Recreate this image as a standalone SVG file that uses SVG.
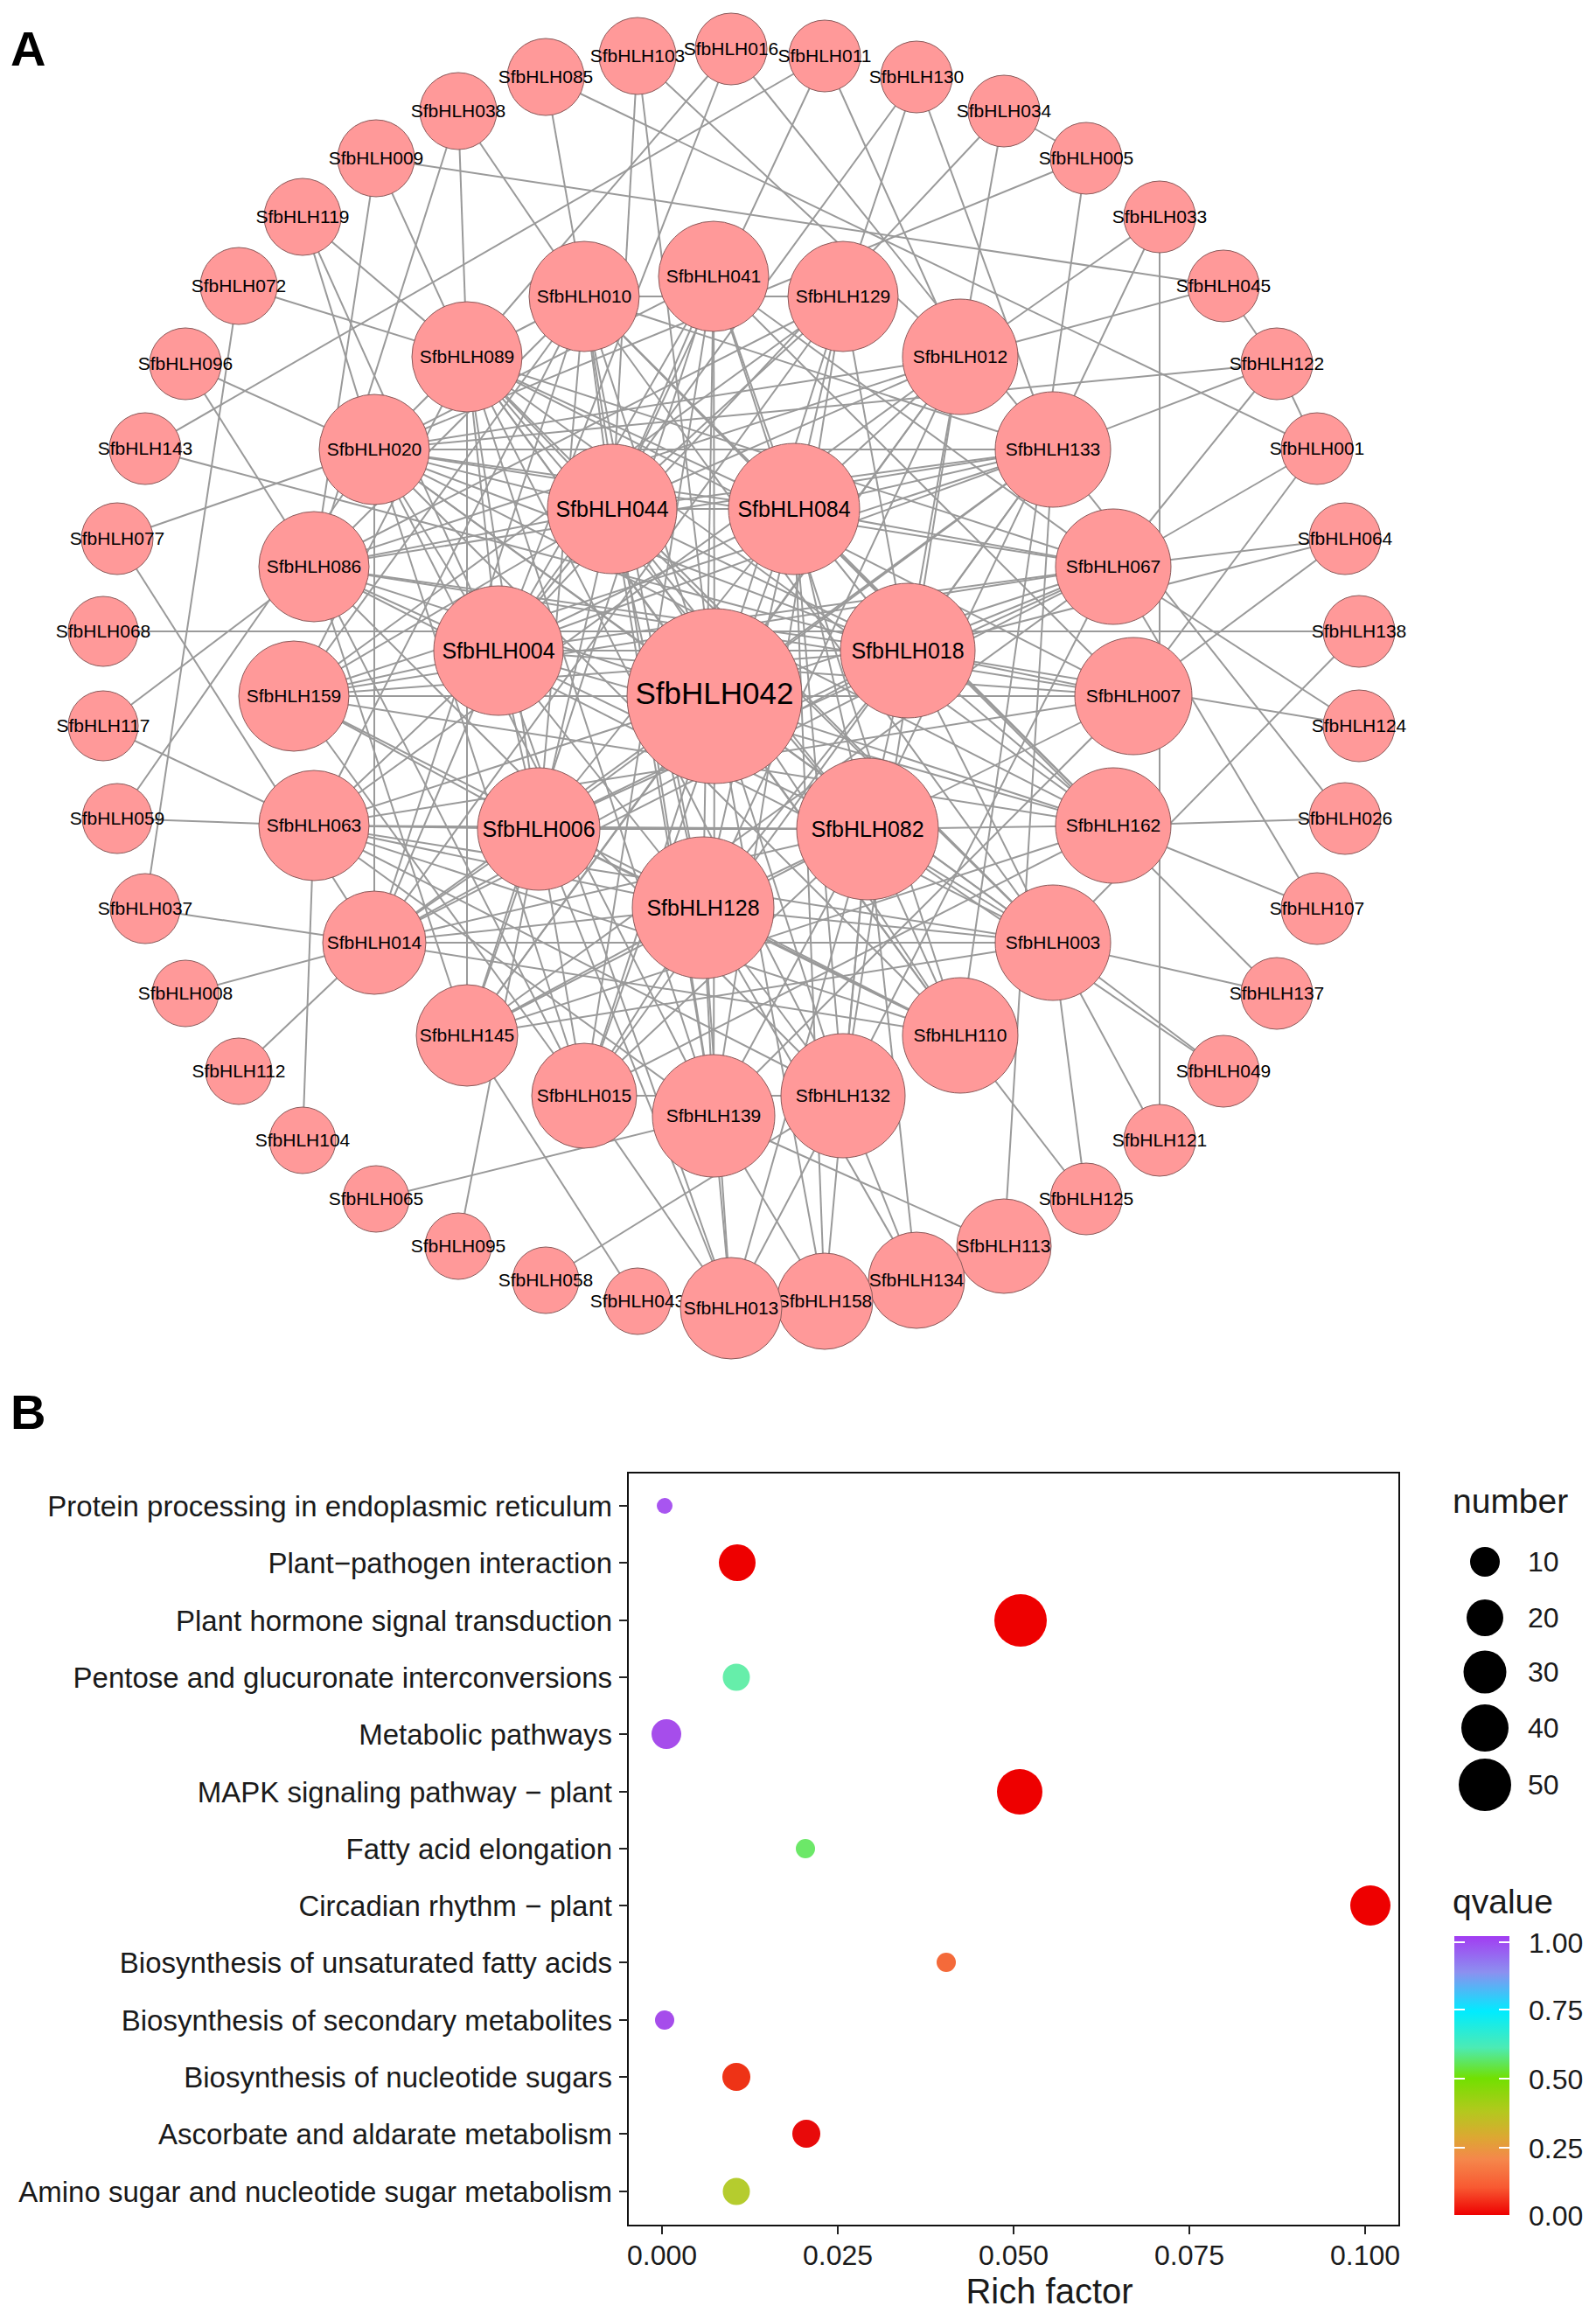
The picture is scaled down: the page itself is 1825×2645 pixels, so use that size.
<svg xmlns="http://www.w3.org/2000/svg" width="1825" height="2645" viewBox="0 0 1825 2645">
<style>
.edges path{stroke:#9a9a9a;stroke-width:2;fill:none}
.node circle{fill:#FF9999;stroke:#8a5a5a;stroke-width:1}
.node text{font-family:"Liberation Sans",Arial,sans-serif;text-anchor:middle;fill:#000}
.s text{font-size:21px}
.m text{font-size:21px}
.l text{font-size:25px}
.c text{font-size:35px}
.lab{font-family:"Liberation Sans",Arial,sans-serif;font-weight:bold;font-size:56px;fill:#000}
.ax{font-family:"Liberation Sans",Arial,sans-serif;fill:#1a1a1a}
.yl{font-size:33px;text-anchor:end}
.xl{font-size:32px;text-anchor:middle}
.lg{font-size:32px}
.tt{font-size:39px}
.tick{stroke:#222;stroke-width:2}
</style>
<defs>
<linearGradient id="qg" x1="0" y1="0" x2="0" y2="1">
<stop offset="0" stop-color="#A23CF2"/>
<stop offset="0.13" stop-color="#8C90F0"/>
<stop offset="0.27" stop-color="#00ECFF"/>
<stop offset="0.40" stop-color="#4CEBB4"/>
<stop offset="0.51" stop-color="#72E000"/>
<stop offset="0.63" stop-color="#B4C81E"/>
<stop offset="0.72" stop-color="#DCA832"/>
<stop offset="0.80" stop-color="#F5874B"/>
<stop offset="0.90" stop-color="#F85A32"/>
<stop offset="1" stop-color="#EE0000"/>
</linearGradient>
</defs>
<rect width="1825" height="2645" fill="#fff"/>
<text class="lab" x="12" y="75">A</text>
<text class="lab" x="12" y="1634">B</text>
<g id="connectors" class="edges">
<path d="M836 56L570 744"/><path d="M836 56L1204 514"/><path d="M836 56L534 408"/>
<path d="M943 64L1098 408"/><path d="M943 64L166 513"/><path d="M943 64L700 582"/>
<path d="M1048 88L964 339"/><path d="M1048 88L1204 514"/><path d="M1048 88L570 744"/>
<path d="M1148 127L1098 408"/><path d="M1148 127L1242 181"/><path d="M1148 127L570 744"/>
<path d="M1242 181L428 514"/><path d="M1242 181L1098 1184"/>
<path d="M1326 248L1326 1304"/><path d="M1326 248L1098 408"/><path d="M1326 248L992 948"/>
<path d="M1399 327L430 181"/><path d="M1399 327L1098 408"/><path d="M1399 327L1460 416"/>
<path d="M1460 416L428 514"/><path d="M1460 416L1204 514"/><path d="M1460 416L1273 648"/><path d="M1460 416L1506 513"/>
<path d="M1506 513L624 88"/><path d="M1506 513L1273 648"/><path d="M1506 513L1296 796"/>
<path d="M1538 616L1273 648"/><path d="M1538 616L1038 744"/><path d="M1538 616L1296 796"/>
<path d="M1554 722L118 722"/><path d="M1554 722L1204 1078"/>
<path d="M1554 830L1273 648"/><path d="M1554 830L1038 744"/>
<path d="M1538 936L1273 944"/><path d="M1538 936L1204 514"/>
<path d="M1506 1039L1273 944"/><path d="M1506 1039L1273 648"/>
<path d="M1460 1136L1204 1078"/><path d="M1460 1136L908 582"/>
<path d="M1399 1225L992 948"/><path d="M1399 1225L1204 1078"/>
<path d="M1326 1304L1204 1078"/>
<path d="M1242 1371L1098 1184"/><path d="M1242 1371L1204 1078"/>
<path d="M1148 1425L1204 514"/><path d="M1148 1425L816 1276"/>
<path d="M1048 1464L964 1253"/><path d="M1048 1464L992 948"/><path d="M1048 1464L804 1038"/>
<path d="M943 1488L816 1276"/><path d="M943 1488L992 948"/><path d="M943 1488L817 796"/><path d="M943 1488L908 582"/>
<path d="M836 1496L816 1276"/><path d="M836 1496L804 1038"/><path d="M836 1496L668 1253"/><path d="M836 1496L616 948"/><path d="M836 1496L570 744"/><path d="M836 1496L992 948"/><path d="M836 1496L964 1253"/>
<path d="M729 1488L534 1184"/>
<path d="M624 1464L964 1253"/>
<path d="M524 1425L616 948"/>
<path d="M430 1371L816 1276"/>
<path d="M346 1304L359 944"/>
<path d="M273 1225L428 1078"/>
<path d="M212 1136L428 1078"/>
<path d="M166 1039L428 1078"/><path d="M166 1039L273 327"/>
<path d="M134 936L359 944"/><path d="M134 936L428 514"/>
<path d="M118 830L359 648"/><path d="M118 830L359 944"/>
<path d="M134 616L428 514"/><path d="M134 616L428 1078"/>
<path d="M166 513L1038 744"/>
<path d="M212 416L359 648"/><path d="M212 416L428 514"/>
<path d="M273 327L534 408"/>
<path d="M346 248L428 514"/><path d="M346 248L534 408"/><path d="M346 248L570 744"/>
<path d="M430 181L359 648"/><path d="M430 181L534 408"/>
<path d="M524 127L359 648"/><path d="M524 127L534 408"/><path d="M524 127L668 339"/>
<path d="M624 88L668 339"/>
<path d="M729 64L817 796"/><path d="M729 64L1098 408"/><path d="M729 64L700 582"/>
<path d="M817 796L816 316"/><path d="M817 796L964 339"/><path d="M817 796L1098 408"/><path d="M817 796L1204 514"/><path d="M817 796L1273 648"/><path d="M817 796L1296 796"/><path d="M817 796L1273 944"/><path d="M817 796L1204 1078"/><path d="M817 796L1098 1184"/><path d="M817 796L964 1253"/><path d="M817 796L816 1276"/><path d="M817 796L668 1253"/><path d="M817 796L534 1184"/><path d="M817 796L428 1078"/><path d="M817 796L359 944"/><path d="M817 796L336 796"/><path d="M817 796L359 648"/><path d="M817 796L428 514"/><path d="M817 796L534 408"/><path d="M817 796L668 339"/>
<path d="M804 1038L616 948"/><path d="M804 1038L570 744"/><path d="M804 1038L700 582"/><path d="M804 1038L908 582"/><path d="M804 1038L1038 744"/><path d="M804 1038L992 948"/>
<path d="M616 948L570 744"/><path d="M616 948L700 582"/><path d="M616 948L908 582"/><path d="M616 948L1038 744"/><path d="M616 948L992 948"/>
<path d="M570 744L700 582"/><path d="M570 744L908 582"/><path d="M570 744L1038 744"/><path d="M570 744L992 948"/>
<path d="M700 582L908 582"/><path d="M700 582L1038 744"/><path d="M700 582L992 948"/>
<path d="M908 582L1038 744"/><path d="M908 582L992 948"/>
<path d="M1038 744L992 948"/>
<path d="M700 582L668 339"/><path d="M700 582L816 316"/><path d="M700 582L534 408"/><path d="M700 582L428 514"/><path d="M700 582L359 648"/><path d="M700 582L336 796"/><path d="M700 582L964 339"/><path d="M700 582L1098 408"/><path d="M700 582L1204 514"/><path d="M700 582L1098 1184"/><path d="M700 582L816 1276"/><path d="M700 582L1204 1078"/>
<path d="M908 582L816 316"/><path d="M908 582L964 339"/><path d="M908 582L1098 408"/><path d="M908 582L1204 514"/><path d="M908 582L1273 648"/><path d="M908 582L668 339"/><path d="M908 582L534 408"/><path d="M908 582L428 514"/><path d="M908 582L1273 944"/><path d="M908 582L964 1253"/><path d="M908 582L668 1253"/>
<path d="M1038 744L964 339"/><path d="M1038 744L1098 408"/><path d="M1038 744L1204 514"/><path d="M1038 744L1273 648"/><path d="M1038 744L1296 796"/><path d="M1038 744L1273 944"/><path d="M1038 744L1204 1078"/><path d="M1038 744L359 648"/><path d="M1038 744L336 796"/><path d="M1038 744L428 514"/><path d="M1038 744L428 1078"/>
<path d="M992 948L1273 944"/><path d="M992 948L1204 1078"/><path d="M992 948L1098 1184"/><path d="M992 948L964 1253"/><path d="M992 948L816 1276"/><path d="M992 948L1296 796"/><path d="M992 948L668 1253"/><path d="M992 948L534 1184"/><path d="M992 948L428 1078"/><path d="M992 948L359 944"/><path d="M992 948L534 408"/>
<path d="M804 1038L816 1276"/><path d="M804 1038L668 1253"/><path d="M804 1038L534 1184"/><path d="M804 1038L964 1253"/><path d="M804 1038L1098 1184"/><path d="M804 1038L1204 1078"/><path d="M804 1038L428 1078"/><path d="M804 1038L359 944"/><path d="M804 1038L668 339"/><path d="M804 1038L816 316"/><path d="M804 1038L1098 408"/>
<path d="M616 948L428 1078"/><path d="M616 948L359 944"/><path d="M616 948L336 796"/><path d="M616 948L534 1184"/><path d="M616 948L668 1253"/><path d="M616 948L534 408"/><path d="M616 948L668 339"/><path d="M616 948L1204 514"/><path d="M616 948L1273 648"/><path d="M616 948L1098 1184"/>
<path d="M570 744L336 796"/><path d="M570 744L359 648"/><path d="M570 744L428 514"/><path d="M570 744L534 408"/><path d="M570 744L359 944"/><path d="M570 744L428 1078"/><path d="M570 744L1204 514"/><path d="M570 744L1273 648"/><path d="M570 744L1296 796"/><path d="M570 744L1273 944"/><path d="M570 744L816 316"/>
<path d="M668 339L964 339"/><path d="M668 339L1204 514"/><path d="M668 339L1204 1078"/><path d="M668 339L816 1276"/><path d="M668 339L1273 944"/>
<path d="M816 316L1273 648"/><path d="M816 316L1296 796"/><path d="M816 316L1098 1184"/><path d="M816 316L668 1253"/><path d="M816 316L534 1184"/><path d="M816 316L428 514"/>
<path d="M964 339L359 648"/><path d="M964 339L336 796"/><path d="M964 339L428 1078"/><path d="M964 339L816 1276"/>
<path d="M1098 408L359 648"/><path d="M1098 408L428 514"/><path d="M1098 408L359 944"/><path d="M1098 408L534 1184"/><path d="M1098 408L964 1253"/>
<path d="M1204 514L359 648"/><path d="M1204 514L336 796"/><path d="M1204 514L668 1253"/><path d="M1204 514L428 514"/>
<path d="M1273 648L428 514"/><path d="M1273 648L534 408"/><path d="M1273 648L336 796"/><path d="M1273 648L428 1078"/><path d="M1273 648L534 1184"/><path d="M1273 648L964 1253"/>
<path d="M1296 796L359 648"/><path d="M1296 796L336 796"/><path d="M1296 796L534 408"/><path d="M1296 796L359 944"/><path d="M1296 796L816 1276"/>
<path d="M1273 944L534 408"/><path d="M1273 944L428 514"/><path d="M1273 944L336 796"/><path d="M1273 944L534 1184"/><path d="M1273 944L668 1253"/>
<path d="M1204 1078L534 408"/><path d="M1204 1078L428 514"/><path d="M1204 1078L359 944"/><path d="M1204 1078L428 1078"/><path d="M1204 1078L534 1184"/><path d="M1204 1078L359 648"/>
<path d="M1098 1184L534 408"/><path d="M1098 1184L428 514"/><path d="M1098 1184L336 796"/><path d="M1098 1184L359 944"/><path d="M1098 1184L428 1078"/>
<path d="M964 1253L534 408"/><path d="M964 1253L359 648"/><path d="M964 1253L359 944"/><path d="M964 1253L668 1253"/>
<path d="M816 1276L534 408"/><path d="M816 1276L428 514"/><path d="M816 1276L359 944"/>
<path d="M668 1253L359 648"/><path d="M668 1253L336 796"/><path d="M668 1253L428 514"/>
<path d="M534 1184L534 408"/><path d="M534 1184L359 648"/>
<path d="M428 1078L428 514"/><path d="M428 1078L668 339"/>
<path d="M359 944L668 339"/>
<path d="M336 796L534 408"/><path d="M336 796L668 339"/>
<path d="M359 648L668 339"/>
<path d="M428 514L534 408"/>
<path d="M534 408L668 339"/>
</g>
<g id="nodes">
<g id="n-SfbHLH016" class="node s"><circle cx="836" cy="56" r="41"/><text x="836" y="63">SfbHLH016</text></g>
<g id="n-SfbHLH011" class="node s"><circle cx="943" cy="64" r="41"/><text x="943" y="71">SfbHLH011</text></g>
<g id="n-SfbHLH130" class="node s"><circle cx="1048" cy="88" r="41"/><text x="1048" y="95">SfbHLH130</text></g>
<g id="n-SfbHLH034" class="node s"><circle cx="1148" cy="127" r="41"/><text x="1148" y="134">SfbHLH034</text></g>
<g id="n-SfbHLH005" class="node s"><circle cx="1242" cy="181" r="41"/><text x="1242" y="188">SfbHLH005</text></g>
<g id="n-SfbHLH033" class="node s"><circle cx="1326" cy="248" r="41"/><text x="1326" y="255">SfbHLH033</text></g>
<g id="n-SfbHLH045" class="node s"><circle cx="1399" cy="327" r="41"/><text x="1399" y="334">SfbHLH045</text></g>
<g id="n-SfbHLH122" class="node s"><circle cx="1460" cy="416" r="41"/><text x="1460" y="423">SfbHLH122</text></g>
<g id="n-SfbHLH001" class="node s"><circle cx="1506" cy="513" r="41"/><text x="1506" y="520">SfbHLH001</text></g>
<g id="n-SfbHLH064" class="node s"><circle cx="1538" cy="616" r="41"/><text x="1538" y="623">SfbHLH064</text></g>
<g id="n-SfbHLH138" class="node s"><circle cx="1554" cy="722" r="41"/><text x="1554" y="729">SfbHLH138</text></g>
<g id="n-SfbHLH124" class="node s"><circle cx="1554" cy="830" r="41"/><text x="1554" y="837">SfbHLH124</text></g>
<g id="n-SfbHLH026" class="node s"><circle cx="1538" cy="936" r="41"/><text x="1538" y="943">SfbHLH026</text></g>
<g id="n-SfbHLH107" class="node s"><circle cx="1506" cy="1039" r="41"/><text x="1506" y="1046">SfbHLH107</text></g>
<g id="n-SfbHLH137" class="node s"><circle cx="1460" cy="1136" r="41"/><text x="1460" y="1143">SfbHLH137</text></g>
<g id="n-SfbHLH049" class="node s"><circle cx="1399" cy="1225" r="41"/><text x="1399" y="1232">SfbHLH049</text></g>
<g id="n-SfbHLH121" class="node s"><circle cx="1326" cy="1304" r="41"/><text x="1326" y="1311">SfbHLH121</text></g>
<g id="n-SfbHLH125" class="node s"><circle cx="1242" cy="1371" r="41"/><text x="1242" y="1378">SfbHLH125</text></g>
<g id="n-SfbHLH113" class="node s"><circle cx="1148" cy="1425" r="54"/><text x="1148" y="1432">SfbHLH113</text></g>
<g id="n-SfbHLH134" class="node s"><circle cx="1048" cy="1464" r="55"/><text x="1048" y="1471">SfbHLH134</text></g>
<g id="n-SfbHLH158" class="node s"><circle cx="943" cy="1488" r="55"/><text x="943" y="1495">SfbHLH158</text></g>
<g id="n-SfbHLH043" class="node s"><circle cx="729" cy="1488" r="38"/><text x="729" y="1495">SfbHLH043</text></g>
<g id="n-SfbHLH013" class="node s"><circle cx="836" cy="1496" r="58"/><text x="836" y="1503">SfbHLH013</text></g>
<g id="n-SfbHLH058" class="node s"><circle cx="624" cy="1464" r="38"/><text x="624" y="1471">SfbHLH058</text></g>
<g id="n-SfbHLH095" class="node s"><circle cx="524" cy="1425" r="38"/><text x="524" y="1432">SfbHLH095</text></g>
<g id="n-SfbHLH065" class="node s"><circle cx="430" cy="1371" r="38"/><text x="430" y="1378">SfbHLH065</text></g>
<g id="n-SfbHLH104" class="node s"><circle cx="346" cy="1304" r="38"/><text x="346" y="1311">SfbHLH104</text></g>
<g id="n-SfbHLH112" class="node s"><circle cx="273" cy="1225" r="38"/><text x="273" y="1232">SfbHLH112</text></g>
<g id="n-SfbHLH008" class="node s"><circle cx="212" cy="1136" r="38"/><text x="212" y="1143">SfbHLH008</text></g>
<g id="n-SfbHLH037" class="node s"><circle cx="166" cy="1039" r="40"/><text x="166" y="1046">SfbHLH037</text></g>
<g id="n-SfbHLH059" class="node s"><circle cx="134" cy="936" r="40"/><text x="134" y="943">SfbHLH059</text></g>
<g id="n-SfbHLH117" class="node s"><circle cx="118" cy="830" r="40"/><text x="118" y="837">SfbHLH117</text></g>
<g id="n-SfbHLH068" class="node s"><circle cx="118" cy="722" r="40"/><text x="118" y="729">SfbHLH068</text></g>
<g id="n-SfbHLH077" class="node s"><circle cx="134" cy="616" r="41"/><text x="134" y="623">SfbHLH077</text></g>
<g id="n-SfbHLH143" class="node s"><circle cx="166" cy="513" r="41"/><text x="166" y="520">SfbHLH143</text></g>
<g id="n-SfbHLH096" class="node s"><circle cx="212" cy="416" r="41"/><text x="212" y="423">SfbHLH096</text></g>
<g id="n-SfbHLH072" class="node s"><circle cx="273" cy="327" r="44"/><text x="273" y="334">SfbHLH072</text></g>
<g id="n-SfbHLH119" class="node s"><circle cx="346" cy="248" r="44"/><text x="346" y="255">SfbHLH119</text></g>
<g id="n-SfbHLH009" class="node s"><circle cx="430" cy="181" r="44"/><text x="430" y="188">SfbHLH009</text></g>
<g id="n-SfbHLH038" class="node s"><circle cx="524" cy="127" r="44"/><text x="524" y="134">SfbHLH038</text></g>
<g id="n-SfbHLH085" class="node s"><circle cx="624" cy="88" r="44"/><text x="624" y="95">SfbHLH085</text></g>
<g id="n-SfbHLH103" class="node s"><circle cx="729" cy="64" r="44"/><text x="729" y="71">SfbHLH103</text></g>
<g id="n-SfbHLH041" class="node m"><circle cx="816" cy="316" r="63"/><text x="816" y="323">SfbHLH041</text></g>
<g id="n-SfbHLH129" class="node m"><circle cx="964" cy="339" r="63"/><text x="964" y="346">SfbHLH129</text></g>
<g id="n-SfbHLH012" class="node m"><circle cx="1098" cy="408" r="66"/><text x="1098" y="415">SfbHLH012</text></g>
<g id="n-SfbHLH133" class="node m"><circle cx="1204" cy="514" r="66"/><text x="1204" y="521">SfbHLH133</text></g>
<g id="n-SfbHLH067" class="node m"><circle cx="1273" cy="648" r="66"/><text x="1273" y="655">SfbHLH067</text></g>
<g id="n-SfbHLH007" class="node m"><circle cx="1296" cy="796" r="67"/><text x="1296" y="803">SfbHLH007</text></g>
<g id="n-SfbHLH162" class="node m"><circle cx="1273" cy="944" r="66"/><text x="1273" y="951">SfbHLH162</text></g>
<g id="n-SfbHLH003" class="node m"><circle cx="1204" cy="1078" r="66"/><text x="1204" y="1085">SfbHLH003</text></g>
<g id="n-SfbHLH110" class="node m"><circle cx="1098" cy="1184" r="66"/><text x="1098" y="1191">SfbHLH110</text></g>
<g id="n-SfbHLH132" class="node m"><circle cx="964" cy="1253" r="71"/><text x="964" y="1260">SfbHLH132</text></g>
<g id="n-SfbHLH139" class="node m"><circle cx="816" cy="1276" r="70"/><text x="816" y="1283">SfbHLH139</text></g>
<g id="n-SfbHLH015" class="node m"><circle cx="668" cy="1253" r="60"/><text x="668" y="1260">SfbHLH015</text></g>
<g id="n-SfbHLH145" class="node m"><circle cx="534" cy="1184" r="58"/><text x="534" y="1191">SfbHLH145</text></g>
<g id="n-SfbHLH014" class="node m"><circle cx="428" cy="1078" r="59"/><text x="428" y="1085">SfbHLH014</text></g>
<g id="n-SfbHLH063" class="node m"><circle cx="359" cy="944" r="63"/><text x="359" y="951">SfbHLH063</text></g>
<g id="n-SfbHLH159" class="node m"><circle cx="336" cy="796" r="63"/><text x="336" y="803">SfbHLH159</text></g>
<g id="n-SfbHLH086" class="node m"><circle cx="359" cy="648" r="63"/><text x="359" y="655">SfbHLH086</text></g>
<g id="n-SfbHLH020" class="node m"><circle cx="428" cy="514" r="63"/><text x="428" y="521">SfbHLH020</text></g>
<g id="n-SfbHLH089" class="node m"><circle cx="534" cy="408" r="63"/><text x="534" y="415">SfbHLH089</text></g>
<g id="n-SfbHLH010" class="node m"><circle cx="668" cy="339" r="63"/><text x="668" y="346">SfbHLH010</text></g>
<g id="n-SfbHLH044" class="node l"><circle cx="700" cy="582" r="74"/><text x="700" y="591">SfbHLH044</text></g>
<g id="n-SfbHLH084" class="node l"><circle cx="908" cy="582" r="75"/><text x="908" y="591">SfbHLH084</text></g>
<g id="n-SfbHLH018" class="node l"><circle cx="1038" cy="744" r="77"/><text x="1038" y="753">SfbHLH018</text></g>
<g id="n-SfbHLH082" class="node l"><circle cx="992" cy="948" r="81"/><text x="992" y="957">SfbHLH082</text></g>
<g id="n-SfbHLH128" class="node l"><circle cx="804" cy="1038" r="81"/><text x="804" y="1047">SfbHLH128</text></g>
<g id="n-SfbHLH006" class="node l"><circle cx="616" cy="948" r="70"/><text x="616" y="957">SfbHLH006</text></g>
<g id="n-SfbHLH004" class="node l"><circle cx="570" cy="744" r="74"/><text x="570" y="753">SfbHLH004</text></g>
<g id="n-SfbHLH042" class="node c"><circle cx="817" cy="796" r="100"/><text x="817" y="805">SfbHLH042</text></g>
</g>
<g id="plotB">
<rect x="718" y="1684" width="882" height="861" fill="none" stroke="#111" stroke-width="2"/>
<g class="tick">
<path d="M708 1722H718M708 1787H718M708 1853H718M708 1918H718M708 1983H718M708 2049H718M708 2114H718M708 2179H718M708 2244H718M708 2310H718M708 2375H718M708 2440H718M708 2506H718"/>
<path d="M757 2545V2555M958 2545V2555M1159 2545V2555M1360 2545V2555M1561 2545V2555"/>
</g>
<g class="ax yl">
<text x="700" y="1734">Protein processing in endoplasmic reticulum</text>
<text x="700" y="1799">Plant−pathogen interaction</text>
<text x="700" y="1865">Plant hormone signal transduction</text>
<text x="700" y="1930">Pentose and glucuronate interconversions</text>
<text x="700" y="1995">Metabolic pathways</text>
<text x="700" y="2061">MAPK signaling pathway − plant</text>
<text x="700" y="2126">Fatty acid elongation</text>
<text x="700" y="2191">Circadian rhythm − plant</text>
<text x="700" y="2256">Biosynthesis of unsaturated fatty acids</text>
<text x="700" y="2322">Biosynthesis of secondary metabolites</text>
<text x="700" y="2387">Biosynthesis of nucleotide sugars</text>
<text x="700" y="2452">Ascorbate and aldarate metabolism</text>
<text x="700" y="2518">Amino sugar and nucleotide sugar metabolism</text>
</g>
<g class="ax xl">
<text x="757" y="2590">0.000</text>
<text x="958" y="2590">0.025</text>
<text x="1159" y="2590">0.050</text>
<text x="1360" y="2590">0.075</text>
<text x="1561" y="2590">0.100</text>
</g>
<text class="ax" x="1200" y="2634" font-size="40" text-anchor="middle">Rich factor</text>
<g id="points">
<circle cx="760" cy="1722" r="9" fill="#A855F0"/>
<circle cx="843" cy="1787" r="21" fill="#EE0000"/>
<circle cx="1167" cy="1853" r="30" fill="#EE0000"/>
<circle cx="842" cy="1918" r="15.5" fill="#66EEAA"/>
<circle cx="762" cy="1983" r="17" fill="#A64DEB"/>
<circle cx="1166" cy="2049" r="26" fill="#EE0000"/>
<circle cx="921" cy="2114" r="11" fill="#6CE868"/>
<circle cx="1567" cy="2179" r="23" fill="#EE0000"/>
<circle cx="1082" cy="2244" r="11" fill="#F46A3A"/>
<circle cx="760" cy="2310" r="11" fill="#A64DEB"/>
<circle cx="842" cy="2375" r="16" fill="#EE3316"/>
<circle cx="922" cy="2440" r="16" fill="#E80A0A"/>
<circle cx="842" cy="2506" r="15.5" fill="#B5CC2E"/>
</g>
<g id="legend-number">
<text class="ax tt" x="1661" y="1730">number</text>
<circle cx="1698" cy="1786" r="17" fill="#000"/>
<circle cx="1698" cy="1850" r="21" fill="#000"/>
<circle cx="1698" cy="1912" r="24.5" fill="#000"/>
<circle cx="1698" cy="1976" r="27" fill="#000"/>
<circle cx="1698" cy="2041" r="30" fill="#000"/>
<text class="ax lg" x="1747" y="1797">10</text>
<text class="ax lg" x="1747" y="1861">20</text>
<text class="ax lg" x="1747" y="1923">30</text>
<text class="ax lg" x="1747" y="1987">40</text>
<text class="ax lg" x="1747" y="2052">50</text>
</g>
<g id="legend-qvalue">
<text class="ax tt" x="1661" y="2188">qvalue</text>
<rect x="1663" y="2214" width="63" height="319" fill="url(#qg)"/>
<path d="M1663 2221H1675M1714 2221H1726M1663 2298H1675M1714 2298H1726M1663 2377H1675M1714 2377H1726M1663 2456H1675M1714 2456H1726" stroke="#fff" stroke-width="2"/>
<text class="ax lg" x="1748" y="2233">1.00</text>
<text class="ax lg" x="1748" y="2310">0.75</text>
<text class="ax lg" x="1748" y="2389">0.50</text>
<text class="ax lg" x="1748" y="2468">0.25</text>
<text class="ax lg" x="1748" y="2545">0.00</text>
</g>
</g>
</svg>
